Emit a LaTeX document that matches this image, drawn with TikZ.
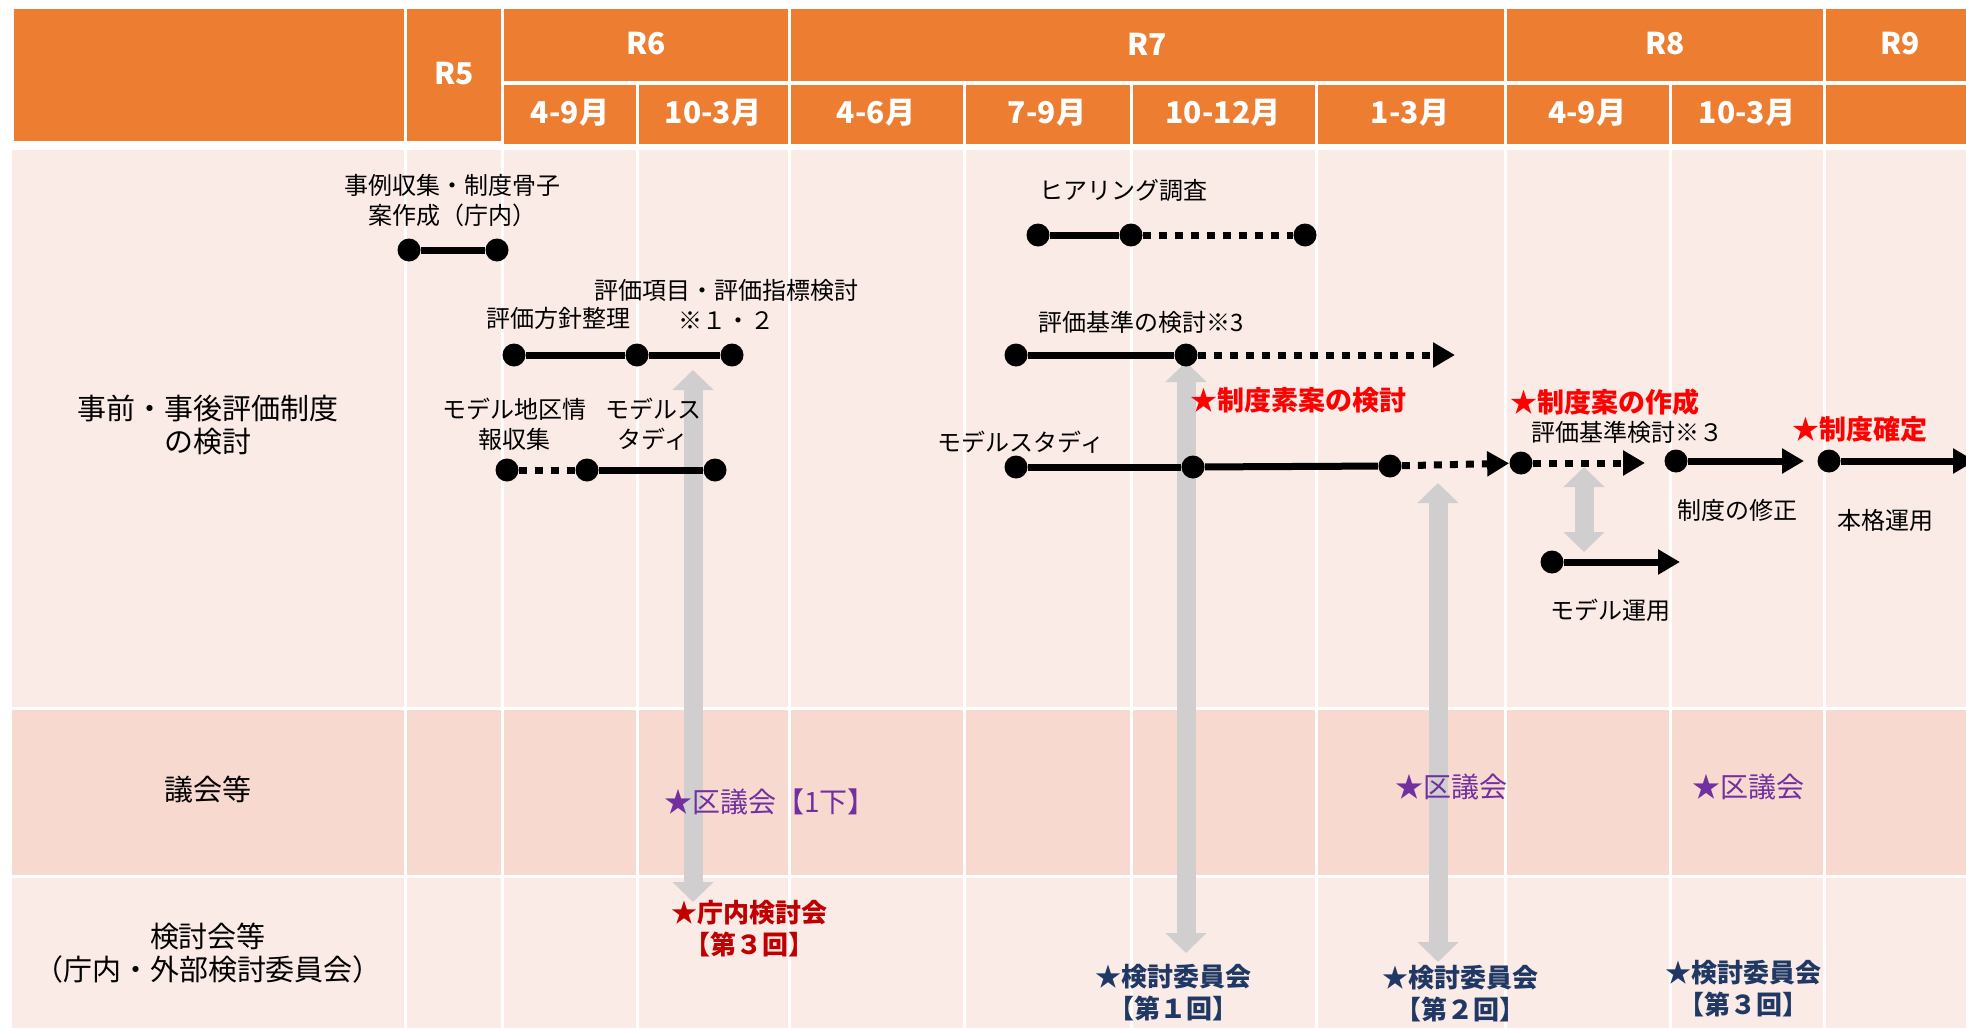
\documentclass[tikz,border=0pt]{standalone}
\usepackage{fontspec}
\setmainfont{Noto Sans CJK JP}
\usetikzlibrary{arrows.meta}
\definecolor{hdr}{HTML}{ED7D31}
\definecolor{pinkA}{HTML}{FBEBE6}
\definecolor{pinkB}{HTML}{F8D9CF}
\definecolor{gry}{HTML}{D0CECE}
\definecolor{redT}{HTML}{FF0000}
\definecolor{dred}{HTML}{C00000}
\definecolor{navy}{HTML}{1F3864}
\definecolor{purp}{HTML}{7030A0}
\tikzset{
  hcell/.style={fill=hdr, draw=white, line width=1.5pt},
  htxt/.style={text=white, font=\bfseries\fontsize{15}{17}\selectfont, inner sep=0pt},
  gridline/.style={draw=white, line width=1.5pt},
  lbl/.style={font=\fontsize{12}{15}\selectfont, align=center, inner sep=0pt},
  rowlbl/.style={font=\fontsize{14.5}{16.5}\selectfont, align=center, inner sep=0pt},
  redlbl/.style={text=redT, font=\bfseries\fontsize{13.5}{16}\selectfont, inner sep=0pt},
  purplbl/.style={text=purp, font=\fontsize{14}{16}\selectfont, inner sep=0pt},
  mtg/.style={font=\bfseries\fontsize{13}{16}\selectfont, align=center, inner sep=0pt},
  dot/.style={circle, fill=black, minimum size=11.5pt, inner sep=0pt},
  bar/.style={line width=3.5pt},
  dbar/.style={line width=3.5pt, dash pattern=on 4pt off 4pt},
  tipa/.style={-{Triangle[length=11pt,width=12pt]}},
  garrow/.style={draw=gry, line width=9.5pt, {Triangle[length=10pt,width=20pt]}-{Triangle[length=10pt,width=20pt]}},
}
\begin{document}
\begin{tikzpicture}[x=0.5pt,y=-0.5pt]
\useasboundingbox (0,0) rectangle (1966,1028);
\clip (0,0) rectangle (1966,1028);
\fill[white] (0,0) rectangle (1966,1028);
% body background
\fill[pinkA] (12,150) rectangle (1970,708);
\fill[pinkB] (12,708) rectangle (1970,876);
\fill[pinkA] (12,876) rectangle (1970,1030);
\foreach \x in {405,502,637,789,964,1131,1316,1505,1670,1824} \draw[gridline] (\x,150) -- (\x,1030);
\draw[gridline] (12,708) -- (1970,708);
\draw[gridline] (12,876) -- (1970,876);
% header cells
\path[hcell] (12,7) rectangle (405,142);
\path[hcell] (405,7) rectangle (502,142);
\path[hcell] (502,7) rectangle (789,82);
\path[hcell] (789,7) rectangle (1505,82);
\path[hcell] (1505,7) rectangle (1824,82);
\path[hcell] (1824,7) rectangle (1975,82);
\foreach \a/\b in {502/637,637/789,789/964,964/1131,1131/1316,1316/1505,1505/1670,1670/1824,1824/1975}
  \path[hcell] (\a,83) rectangle (\b,145);
% header texts
\node[htxt] (hR5) at (454,74) {R5};
\node[htxt] (hR6) at (646,44) {R6};
\node[htxt] (hR7) at (1147,44) {R7};
\node[htxt] (hR8) at (1665,44) {R8};
\node[htxt] (hR9) at (1900,44) {R9};
\node[htxt] (m1) at (570,113) {4-9月};
\node[htxt] (m2) at (713,113) {10-3月};
\node[htxt] (m3) at (876,113) {4-6月};
\node[htxt] (m4) at (1047,113) {7-9月};
\node[htxt] (m5) at (1223,113) {10-12月};
\node[htxt] (m6) at (1410,113) {1-3月};
\node[htxt] (m7) at (1587,113) {4-9月};
\node[htxt] (m8) at (1747,113) {10-3月};
% grey double arrows
\coordinate (g1a) at (693,370); \coordinate (g1b) at (693,902);
\coordinate (g2a) at (1186,362); \coordinate (g2b) at (1186,953);
\coordinate (g3a) at (1438,483); \coordinate (g3b) at (1438,962);
\coordinate (g4a) at (1584,467); \coordinate (g4b) at (1584,552);
\draw[garrow] (g1a) -- (g1b);
\draw[garrow] (g2a) -- (g2b);
\draw[garrow] (g3a) -- (g3b);
\draw[garrow] (g4a) -- (g4b);
% R5-R6 bars
\node[dot] (a1) at (409,250) {};
\node[dot] (a2) at (497,250) {};
\draw[bar] (a1) -- (a2);
\node[dot] (b1) at (514,355) {};
\node[dot] (b2) at (637,355) {};
\node[dot] (b3) at (732,355) {};
\draw[bar] (b1) -- (b2);
\draw[bar] (b2) -- (b3);
\node[dot] (c1) at (507,470) {};
\node[dot] (c2) at (587,470) {};
\node[dot] (c3) at (715,470) {};
\draw[dbar] (c1) -- (c2);
\draw[bar] (c2) -- (c3);
% R7 bars
\node[dot] (h1) at (1038,235) {};
\node[dot] (h2) at (1131,235) {};
\node[dot] (h3) at (1305,235) {};
\draw[bar] (h1) -- (h2);
\draw[dbar] (h2) -- (h3);
\node[dot] (k1) at (1016,355) {};
\node[dot] (k2) at (1186,355) {};
\coordinate (k3) at (1455,355);
\draw[bar] (k1) -- (k2);
\draw[dbar,tipa] (k2) -- (k3);
\node[dot] (s1) at (1016,467) {};
\node[dot] (s2) at (1193,467) {};
\node[dot] (s3) at (1390,466) {};
\node[dot] (s4) at (1521,463) {};
\coordinate (s5) at (1645,463);
\draw[bar] (s1) -- (s2);
\draw[bar] (s2) -- (s3);
\draw[dbar,tipa] (s3) -- (s4);
\draw[dbar,tipa] (s4) -- (s5);
\node[dot] (f1) at (1676,461) {};
\coordinate (f2) at (1804,461);
\draw[bar,tipa] (f1) -- (f2);
\node[dot] (e1) at (1829,461) {};
\coordinate (e2) at (1975,461);
\draw[bar,tipa] (e1) -- (e2);
\node[dot] (u1) at (1552,562) {};
\coordinate (u2) at (1680,562);
\draw[bar,tipa] (u1) -- (u2);
% labels
\node[lbl] (t1) at (452,201) {事例収集・制度骨子\\案作成（庁内）};
\node[lbl] (t2) at (558,318) {評価方針整理};
\node[lbl] (t3) at (726,304) {評価項目・評価指標検討\\※１・２};
\node[lbl] (t4) at (514,424) {モデル地区情\\報収集};
\node[lbl] (t5) at (653,424) {モデルス\\タディ};
\node[lbl] (t6) at (1123,190) {ヒアリング調査};
\node[lbl] (t7) at (1141,322) {評価基準の検討※3};
\node[redlbl] (t8) at (1298,400) {★制度素案の検討};
\node[lbl] (t9) at (1021,442) {モデルスタディ};
\node[redlbl] (t10) at (1605,402) {★制度案の作成};
\node[lbl] (t11) at (1627,432) {評価基準検討※３};
\node[lbl] (t12) at (1737,510) {制度の修正};
\node[redlbl] (t13) at (1860,429) {★制度確定};
\node[lbl] (t14) at (1885,520) {本格運用};
\node[lbl] (t15) at (1610,610) {モデル運用};
% row labels
\node[rowlbl] (r1) at (208,425) {事前・事後評価制度\\の検討};
\node[rowlbl] (r2) at (208,790) {議会等};
\node[rowlbl] (r3) at (208,953) {検討会等\\（庁内・外部検討委員会）};
% council
\node[purplbl] (p1) at (770,802) {★区議会【1下】};
\node[purplbl] (p2) at (1451,787) {★区議会};
\node[purplbl] (p3) at (1748,787) {★区議会};
% meetings
\node[mtg, text=dred] (q1) at (749,929) {★庁内検討会\\【第３回】};
\node[mtg, text=navy] (q2) at (1173,993) {★検討委員会\\【第１回】};
\node[mtg, text=navy] (q3) at (1460,994) {★検討委員会\\【第２回】};
\node[mtg, text=navy] (q4) at (1743,989) {★検討委員会\\【第３回】};
\end{tikzpicture}
\end{document}
